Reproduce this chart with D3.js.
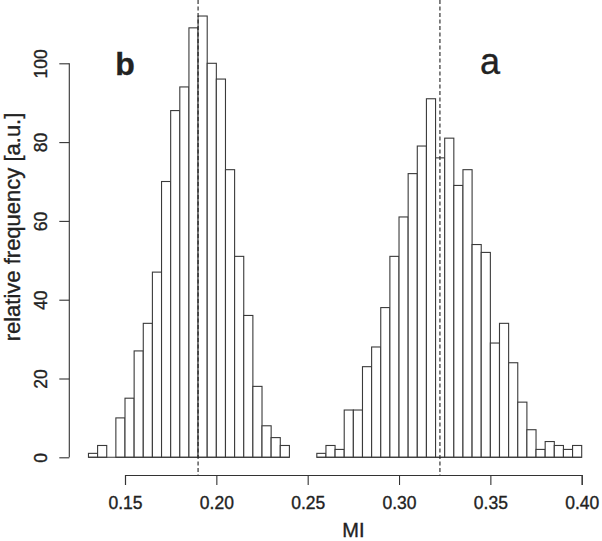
<!DOCTYPE html>
<html>
<head>
<meta charset="utf-8">
<script src="https://cdn.jsdelivr.net/npm/d3@7"></script>
<style>
  body { margin: 0; background: #fff; }
  text { font-family: "Liberation Sans", Arial, sans-serif; fill: #222; stroke: #222; stroke-width: 0.35px; }
</style>
</head>
<body>
<svg width="602" height="541"></svg>
<script>
// histogram b (left), bins of width 0.005 starting at 0.130
const binWidth = 0.005
const startB = 0.130
const countsB = [1, 3, 0, 10, 15, 27, 34, 47, 70, 88, 94, 109, 112, 100, 96, 73, 51, 36, 18, 8, 5, 3]
// histogram a (right), starting at 0.255
const startA = 0.255
const countsA = [1, 3, 2, 12, 12, 23, 28, 38, 51, 61, 72, 79, 91, 76, 81, 69, 73, 54, 52, 29, 34, 24, 14, 7, 2, 4, 3, 2, 3]
const means = [0.19, 0.3224]
const xTicks = [0.15, 0.20, 0.25, 0.30, 0.35, 0.40]
const yTicks = [0, 20, 40, 60, 80, 100]

const svg = d3.select("svg")

const x = d3.scaleLinear().domain([0.15, 0.40]).range([125, 581.7])
const y = d3.scaleLinear().domain([0, 100]).range([457.3, 63.3])

const bins = []
countsB.forEach((c, i) => bins.push({x0: startB + i * binWidth, n: c}))
countsA.forEach((c, i) => bins.push({x0: startA + i * binWidth, n: c}))

svg.append("g")
    .selectAll("rect")
    .data(bins)
    .join("rect")
    .attr("x", d => x(d.x0))
    .attr("y", d => y(d.n))
    .attr("width", d => x(d.x0 + binWidth) - x(d.x0))
    .attr("height", d => y(0) - y(d.n))
    .attr("fill", "#fff")
    .attr("stroke", "#3a3a3a")
    .attr("stroke-width", 1.1);

// baseline segments under each histogram
const groups = [[startB, countsB.length], [startA, countsA.length]]
svg.append("g")
    .selectAll("line")
    .data(groups)
    .join("line")
    .attr("x1", d => x(d[0]))
    .attr("x2", d => x(d[0] + d[1] * binWidth))
    .attr("y1", y(0))
    .attr("y2", y(0))
    .attr("stroke", "#3a3a3a")
    .attr("stroke-width", 1.1);

// x axis
const xAxis = svg.append("g")
    .attr("transform", "translate(0,475)")
    .call(d3.axisBottom(x).tickValues(xTicks).tickFormat(d3.format(".2f")).tickSize(10).tickPadding(12))
xAxis.select(".domain").attr("stroke", "#333").attr("stroke-width", 1.1)
xAxis.selectAll(".tick line").attr("stroke", "#333").attr("stroke-width", 1.1)
xAxis.selectAll("text").style("font-size", "17.5px").attr("fill", "#222")

// y axis
const yAxis = svg.append("g")
    .attr("transform", "translate(69.3,0)")
    .call(d3.axisLeft(y).tickValues(yTicks).tickSize(10).tickPadding(0))
yAxis.select(".domain").attr("d", `M0,${y(0)}V${y(100)}`).attr("stroke", "#333").attr("stroke-width", 1.1)
yAxis.selectAll(".tick line").attr("stroke", "#333").attr("stroke-width", 1.1)
yAxis.selectAll("text")
    .attr("x", 0).attr("dy", 0)
    .attr("transform", "translate(-22.5,0) rotate(-90)")
    .attr("text-anchor", "middle")
    .style("font-size", "17.5px")
    .attr("fill", "#222")

// mean lines
svg.append("g")
    .selectAll("line")
    .data(means)
    .join("line")
    .attr("x1", d => x(d))
    .attr("x2", d => x(d))
    .attr("y1", 0)
    .attr("y2", 475)
    .attr("stroke", "#222")
    .attr("stroke-width", 1.1)
    .attr("stroke-dasharray", "4,2.5");

// titles
svg.append("text")
    .attr("x", x(0.275))
    .attr("y", 537)
    .attr("text-anchor", "middle")
    .style("font-size", "20px")
    .text("MI");

svg.append("text")
    .attr("transform", "translate(19.5,227) rotate(-90)")
    .attr("text-anchor", "middle")
    .style("font-size", "22px")
    .text("relative frequency [a.u.]");

svg.append("text")
    .attr("x", 125).attr("y", 75)
    .attr("text-anchor", "middle")
    .style("font-size", "32px")
    .style("font-weight", "bold")
    .text("b");

svg.append("text")
    .attr("x", 490).attr("y", 74)
    .attr("text-anchor", "middle")
    .style("font-size", "36px")
    .text("a");
</script>
</body>
</html>
